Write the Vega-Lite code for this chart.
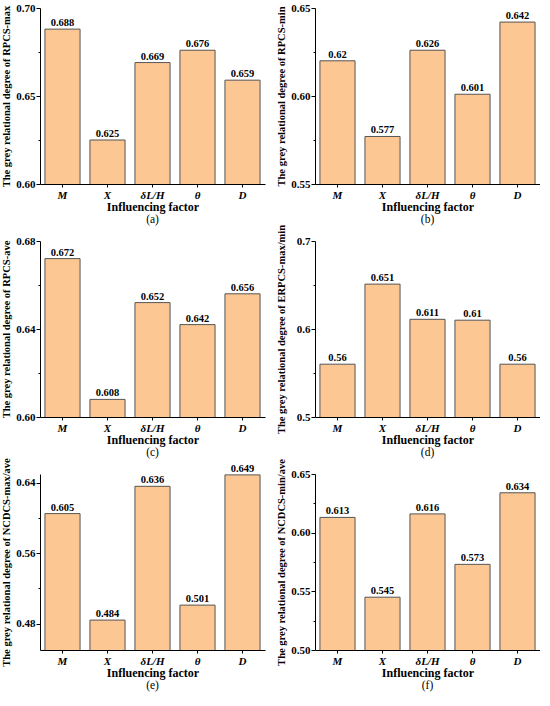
{
  "$schema": "https://vega.github.io/schema/vega-lite/v6.json",
  "padding": {"left": 1, "top": 2, "right": 0, "bottom": 0},
  "datasets": {
    "bars": [
      {"panel": "a", "factor": "M", "value": 0.688},
      {"panel": "a", "factor": "X", "value": 0.625},
      {"panel": "a", "factor": "δL/H", "value": 0.669},
      {"panel": "a", "factor": "θ", "value": 0.676},
      {"panel": "a", "factor": "D", "value": 0.659},
      {"panel": "b", "factor": "M", "value": 0.62},
      {"panel": "b", "factor": "X", "value": 0.577},
      {"panel": "b", "factor": "δL/H", "value": 0.626},
      {"panel": "b", "factor": "θ", "value": 0.601},
      {"panel": "b", "factor": "D", "value": 0.642},
      {"panel": "c", "factor": "M", "value": 0.672},
      {"panel": "c", "factor": "X", "value": 0.608},
      {"panel": "c", "factor": "δL/H", "value": 0.652},
      {"panel": "c", "factor": "θ", "value": 0.642},
      {"panel": "c", "factor": "D", "value": 0.656},
      {"panel": "d", "factor": "M", "value": 0.56},
      {"panel": "d", "factor": "X", "value": 0.651},
      {"panel": "d", "factor": "δL/H", "value": 0.611},
      {"panel": "d", "factor": "θ", "value": 0.61},
      {"panel": "d", "factor": "D", "value": 0.56},
      {"panel": "e", "factor": "M", "value": 0.605},
      {"panel": "e", "factor": "X", "value": 0.484},
      {"panel": "e", "factor": "δL/H", "value": 0.636},
      {"panel": "e", "factor": "θ", "value": 0.501},
      {"panel": "e", "factor": "D", "value": 0.649},
      {"panel": "f", "factor": "M", "value": 0.613},
      {"panel": "f", "factor": "X", "value": 0.545},
      {"panel": "f", "factor": "δL/H", "value": 0.616},
      {"panel": "f", "factor": "θ", "value": 0.573},
      {"panel": "f", "factor": "D", "value": 0.634}
    ]
  },
  "data": {"name": "bars"},
  "columns": 2,
  "bounds": "flush",
  "spacing": {"row": 57, "column": 50},
  "concat": [
    {
      "width": 225, "height": 176,
      "transform": [{"filter": "datum.panel == 'a'"}],
      "title": {"text": "(a)", "orient": "bottom"},
      "encoding": {
        "x": {"field": "factor", "type": "nominal", "sort": null, "title": "Influencing factor",
              "scale": {"paddingInner": 0.22, "paddingOuter": 0.11}},
        "y": {"field": "value", "type": "quantitative", "scale": {"domain": [0.6, 0.7]},
              "title": "The grey relational degree of RPCS-max",
              "axis": {"values": [0.6, 0.625, 0.65, 0.675, 0.7],
                       "labelExpr": "round(datum.value*1000) % 50 == 0 ? format(datum.value, '.2f') : ''",
                       "tickSize": {"condition": {"test": "round(datum.value*1000) % 50 == 0", "value": 4}, "value": 2}}}
      },
      "layer": [
        {"mark": {"type": "bar", "clip": true}},
        {"mark": {"type": "text", "dy": -6}, "encoding": {"text": {"field": "value", "format": ".3~f"}}}
      ]
    },
    {
      "width": 225, "height": 176,
      "transform": [{"filter": "datum.panel == 'b'"}],
      "title": {"text": "(b)", "orient": "bottom"},
      "encoding": {
        "x": {"field": "factor", "type": "nominal", "sort": null, "title": "Influencing factor",
              "scale": {"paddingInner": 0.22, "paddingOuter": 0.11}},
        "y": {"field": "value", "type": "quantitative", "scale": {"domain": [0.55, 0.65]},
              "title": "The grey relational degree of RPCS-min",
              "axis": {"values": [0.55, 0.575, 0.6, 0.625, 0.65],
                       "labelExpr": "round(datum.value*1000) % 50 == 0 ? format(datum.value, '.2f') : ''",
                       "tickSize": {"condition": {"test": "round(datum.value*1000) % 50 == 0", "value": 4}, "value": 2}}}
      },
      "layer": [
        {"mark": {"type": "bar", "clip": true}},
        {"mark": {"type": "text", "dy": -6}, "encoding": {"text": {"field": "value", "format": ".3~f"}}}
      ]
    },
    {
      "width": 225, "height": 176,
      "transform": [{"filter": "datum.panel == 'c'"}],
      "title": {"text": "(c)", "orient": "bottom"},
      "encoding": {
        "x": {"field": "factor", "type": "nominal", "sort": null, "title": "Influencing factor",
              "scale": {"paddingInner": 0.22, "paddingOuter": 0.11}},
        "y": {"field": "value", "type": "quantitative", "scale": {"domain": [0.6, 0.68]},
              "title": "The grey relational degree of RPCS-ave",
              "axis": {"values": [0.6, 0.62, 0.64, 0.66, 0.68],
                       "labelExpr": "round(datum.value*1000) % 40 == 0 ? format(datum.value, '.2f') : ''",
                       "tickSize": {"condition": {"test": "round(datum.value*1000) % 40 == 0", "value": 4}, "value": 2}}}
      },
      "layer": [
        {"mark": {"type": "bar", "clip": true}},
        {"mark": {"type": "text", "dy": -6}, "encoding": {"text": {"field": "value", "format": ".3~f"}}}
      ]
    },
    {
      "width": 225, "height": 176,
      "transform": [{"filter": "datum.panel == 'd'"}],
      "title": {"text": "(d)", "orient": "bottom"},
      "encoding": {
        "x": {"field": "factor", "type": "nominal", "sort": null, "title": "Influencing factor",
              "scale": {"paddingInner": 0.22, "paddingOuter": 0.11}},
        "y": {"field": "value", "type": "quantitative", "scale": {"domain": [0.5, 0.7]},
              "title": "The grey relational degree of ERPCS-max/min",
              "axis": {"values": [0.5, 0.55, 0.6, 0.65, 0.7],
                       "labelExpr": "round(datum.value*1000) % 100 == 0 ? format(datum.value, '.1f') : ''",
                       "tickSize": {"condition": {"test": "round(datum.value*1000) % 100 == 0", "value": 4}, "value": 2}}}
      },
      "layer": [
        {"mark": {"type": "bar", "clip": true}},
        {"mark": {"type": "text", "dy": -6}, "encoding": {"text": {"field": "value", "format": ".3~f"}}}
      ]
    },
    {
      "width": 225, "height": 176,
      "transform": [{"filter": "datum.panel == 'e'"}],
      "title": {"text": "(e)", "orient": "bottom"},
      "encoding": {
        "x": {"field": "factor", "type": "nominal", "sort": null, "title": "Influencing factor",
              "scale": {"paddingInner": 0.22, "paddingOuter": 0.11}},
        "y": {"field": "value", "type": "quantitative", "scale": {"domain": [0.45, 0.65]},
              "title": "The grey relational degree of  NCDCS-max/ave",
              "axis": {"values": [0.48, 0.52, 0.56, 0.6, 0.64],
                       "labelExpr": "round(datum.value*1000) % 80 == 0 ? format(datum.value, '.2f') : ''",
                       "tickSize": {"condition": {"test": "round(datum.value*1000) % 80 == 0", "value": 4}, "value": 2}}}
      },
      "layer": [
        {"mark": {"type": "bar", "clip": true}},
        {"mark": {"type": "text", "dy": -6}, "encoding": {"text": {"field": "value", "format": ".3~f"}}}
      ]
    },
    {
      "width": 225, "height": 176,
      "transform": [{"filter": "datum.panel == 'f'"}],
      "title": {"text": "(f)", "orient": "bottom"},
      "encoding": {
        "x": {"field": "factor", "type": "nominal", "sort": null, "title": "Influencing factor",
              "scale": {"paddingInner": 0.22, "paddingOuter": 0.11}},
        "y": {"field": "value", "type": "quantitative", "scale": {"domain": [0.5, 0.65]},
              "title": "The grey relational degree of NCDCS-min/ave",
              "axis": {"values": [0.5, 0.525, 0.55, 0.575, 0.6, 0.625, 0.65],
                       "labelExpr": "round(datum.value*1000) % 50 == 0 ? format(datum.value, '.2f') : ''",
                       "tickSize": {"condition": {"test": "round(datum.value*1000) % 50 == 0", "value": 4}, "value": 2}}}
      },
      "layer": [
        {"mark": {"type": "bar", "clip": true}},
        {"mark": {"type": "text", "dy": -6}, "encoding": {"text": {"field": "value", "format": ".3~f"}}}
      ]
    }
  ],
  "config": {
    "font": "Liberation Serif",
    "view": {"stroke": null},
    "bar": {"fill": "#FDC794", "stroke": "#555555", "strokeWidth": 1},
    "text": {"font": "Liberation Serif", "fontWeight": "bold", "fontSize": 10.5, "color": "black"},
    "title": {"font": "Liberation Serif", "fontWeight": "normal", "fontSize": 11.5, "color": "black", "offset": 2},
    "axis": {
      "grid": false,
      "domainColor": "black",
      "tickColor": "black",
      "labelFont": "Liberation Serif",
      "labelFontWeight": "bold",
      "labelFontSize": 11,
      "labelColor": "black",
      "titleFont": "Liberation Serif",
      "titleFontWeight": "bold",
      "titleColor": "black"
    },
    "axisY": {"titleFontSize": 10.5, "minExtent": 27, "maxExtent": 27, "titlePadding": 2, "labelPadding": 1},
    "axisX": {"labelAngle": 0, "labelFontStyle": "italic", "labelFontSize": 11, "titleFontSize": 12, "titlePadding": 1, "labelPadding": 2, "domainWidth": 1, "tickSize": 3}
  }
}
